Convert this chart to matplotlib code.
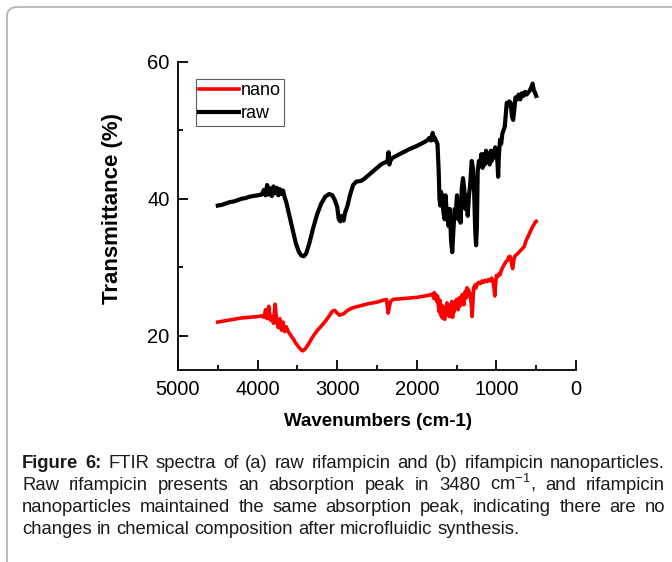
import matplotlib
matplotlib.use("Agg")
import matplotlib.pyplot as plt
from matplotlib.patches import FancyBboxPatch

plt.rcParams['font.family'] = ['Liberation Sans', 'DejaVu Sans']
plt.rcParams['mathtext.fontset'] = 'custom'
plt.rcParams['mathtext.rm'] = 'Liberation Sans'
plt.rcParams['mathtext.it'] = 'Liberation Sans:italic'
plt.rcParams['mathtext.bf'] = 'Liberation Sans:bold'

# ---------------- data ----------------
raw_wn = [4500, 4450, 4400, 4350, 4300, 4250, 4200, 4150, 4100, 4050, 4000, 3950, 3920, 3900, 3880,
          3860, 3840, 3820, 3800, 3780, 3760, 3740, 3720, 3700, 3680, 3660, 3640, 3600, 3560, 3520,
          3480, 3450, 3420, 3390, 3350, 3300, 3250, 3200, 3150, 3100, 3060, 3030, 3000, 2980, 2960,
          2940, 2920, 2900, 2870, 2840, 2800, 2760, 2700, 2650, 2600, 2550, 2500, 2450, 2400, 2370,
          2355, 2345, 2330, 2300, 2200, 2100, 2000, 1950, 1900, 1860, 1840, 1820, 1800, 1790, 1780,
          1760, 1740, 1725, 1715, 1705, 1695, 1680, 1665, 1650, 1640, 1620, 1600, 1585, 1570, 1555,
          1540, 1525, 1510, 1495, 1480, 1465, 1450, 1435, 1420, 1405, 1390, 1375, 1360, 1345, 1330,
          1310, 1295, 1280, 1265, 1255, 1245, 1235, 1220, 1205, 1190, 1175, 1160, 1145, 1130, 1115,
          1100, 1085, 1070, 1060, 1045, 1030, 1015, 1000, 985, 978, 970, 955, 940, 925, 910,
          895, 880, 870, 855, 840, 820, 805, 790, 775, 760, 740, 720, 700, 680, 660,
          640, 620, 600, 580, 560, 545, 530, 515, 500]
raw_t = [39.0, 39.1, 39.3, 39.5, 39.6, 39.8, 40.0, 40.1, 40.3, 40.4, 40.5, 40.6, 41.3, 40.5, 42.0,
         40.6, 41.5, 40.4, 41.8, 40.8, 41.6, 40.5, 41.4, 40.7, 41.2, 40.2, 39.5, 37.5, 35.5, 33.5,
         32.2, 31.7, 31.6, 32.0, 33.5, 35.8, 37.8, 39.3, 40.3, 40.7, 40.5, 39.8, 38.8, 37.0, 36.7,
         37.5, 36.8, 38.0, 39.0, 40.5, 42.0, 42.5, 42.6, 43.0, 43.5, 44.0, 44.5, 45.0, 45.3, 45.4,
         46.8, 45.0, 45.6, 46.0, 46.6, 47.2, 47.7, 48.0, 48.3, 48.6, 48.9, 48.5, 49.6, 48.6, 49.0,
         48.5, 48.0, 44.0, 40.0, 39.0, 41.0, 40.0, 38.0, 37.0, 40.5, 37.5, 36.0, 38.5, 34.0, 32.2,
         35.5, 38.5, 38.0, 40.5, 37.0, 39.0, 36.5, 41.5, 43.0, 41.5, 38.5, 40.5, 37.5, 40.5, 42.0,
         45.5, 44.5, 41.0, 35.0, 33.2, 36.0, 44.0, 45.5, 44.8, 46.5, 44.5, 46.5, 45.0, 47.0, 45.5,
         46.5, 45.0, 47.0, 45.5, 47.0, 46.0, 47.5, 47.0, 45.0, 43.2, 46.0, 48.6, 48.0, 49.5, 50.0,
         50.5, 52.5, 54.0, 53.6, 54.2, 54.0, 52.0, 51.5, 53.0, 54.8, 54.5, 55.2, 54.5, 55.4, 55.0,
         55.6, 55.2, 55.5, 55.8, 56.3, 56.8, 55.8, 55.5, 55.0]

nano_wn = [4500, 4400, 4300, 4200, 4100, 4000, 3950, 3920, 3900, 3880, 3860, 3840, 3820, 3800, 3780,
           3760, 3740, 3720, 3700, 3680, 3660, 3640, 3610, 3580, 3550, 3520, 3480, 3450, 3430, 3400,
           3360, 3320, 3280, 3240, 3200, 3150, 3100, 3060, 3030, 3000, 2970, 2950, 2920, 2880, 2840,
           2800, 2700, 2600, 2500, 2420, 2380, 2360, 2345, 2330, 2300, 2200, 2100, 2000, 1950, 1900,
           1850, 1800, 1790, 1780, 1770, 1760, 1750, 1740, 1730, 1720, 1710, 1700, 1690, 1680, 1670,
           1660, 1650, 1640, 1630, 1620, 1610, 1600, 1590, 1580, 1570, 1560, 1550, 1540, 1530, 1520,
           1510, 1500, 1490, 1480, 1470, 1460, 1450, 1440, 1430, 1420, 1410, 1400, 1390, 1380, 1370,
           1360, 1350, 1340, 1330, 1315, 1305, 1295, 1285, 1270, 1255, 1240, 1220, 1200, 1180, 1160,
           1140, 1120, 1100, 1080, 1060, 1045, 1030, 1020, 1010, 1000, 985, 970, 955, 940, 920,
           900, 880, 860, 845, 830, 815, 805, 795, 785, 770, 750, 730, 710, 690, 670,
           650, 630, 610, 590, 570, 550, 530, 510, 500]
nano_t = [22.0, 22.2, 22.4, 22.6, 22.7, 22.8, 22.9, 22.7, 23.8, 22.5, 24.3, 22.3, 22.8, 21.8, 24.6,
          22.0, 21.2, 22.5, 20.8, 22.0, 20.6, 21.3, 20.5, 20.0, 19.5, 18.9, 18.3, 17.9, 17.8, 18.1,
          18.8, 19.6, 20.3, 20.9, 21.4, 22.1, 22.9, 23.6, 23.7, 23.3, 23.0, 23.1, 23.2, 23.6, 23.9,
          24.1, 24.4, 24.7, 24.9, 25.2, 25.3, 23.3, 24.2, 25.0, 25.3, 25.4, 25.5, 25.6, 25.7, 25.8,
          25.9, 26.1, 25.5, 26.3, 25.4, 26.0, 25.0, 25.8, 24.5, 23.5, 25.2, 23.0, 24.5, 22.6, 24.3,
          23.0, 22.4, 24.0, 23.2, 24.8, 23.0, 24.5, 22.8, 24.2, 23.4, 25.0, 22.7, 24.4, 23.5, 25.0,
          24.0, 25.3, 24.5, 23.8, 25.5, 24.3, 25.6, 24.8, 26.0, 25.2, 24.5, 25.8, 26.5, 25.5, 27.0,
          26.0, 26.7, 25.8, 26.2, 24.5, 22.8, 25.0, 27.0, 27.4, 27.0, 27.6, 27.8, 27.6, 28.0, 27.8,
          28.1, 27.9, 28.2, 28.0, 28.4, 28.0, 27.0, 25.8, 27.5, 28.8, 28.6, 29.0, 28.9, 29.5, 30.0,
          30.4, 30.8, 31.0, 31.5, 31.6, 31.0, 30.2, 29.8, 30.8, 31.6, 31.8, 32.0, 32.3, 32.5, 32.8,
          33.0, 33.8, 34.3, 34.8, 35.3, 35.8, 36.2, 36.6, 36.7]

x_ticks = [5000, 4000, 3000, 2000, 1000, 0]
y_ticks = [20, 40, 60]
series_labels = ["nano", "raw"]
x_label = "Wavenumbers (cm-1)"
y_label = "Transmittance (%)"
caption_lines = [
    "Figure 6: FTIR spectra of (a) raw rifampicin and (b) rifampicin nanoparticles.",
    "Raw rifampicin presents an absorption peak in 3480 cm$^{\\mathregular{-1}}$, and rifampicin",
    "nanoparticles maintained the same absorption peak, indicating there are no",
    "changes in chemical composition after microfluidic synthesis.",
]

# ---------------- figure ----------------
W, H = 672, 562
fig = plt.figure(figsize=(W / 100, H / 100), dpi=100)

frame = FancyBboxPatch((7 / W, -0.1), 1.2, 1 - 7 / H + 0.1,
                       boxstyle="round,pad=0,rounding_size=0.016",
                       transform=fig.transFigure, fill=False,
                       edgecolor="#b5b5b5", linewidth=1.3, zorder=0)
fig.patches.append(frame)

ax = fig.add_axes([178 / W, 1 - 370 / H, (576 - 178) / W, (370 - 61.7) / H])
ax.plot(nano_wn, nano_t, color="#ff0000", lw=2.6, label=series_labels[0])
ax.plot(raw_wn, raw_t, color="#000000", lw=3.0, label=series_labels[1])

ax.set_xlim(5000, 0)
ax.set_ylim(15, 60)
ax.set_xticks(x_ticks)
ax.set_xticks([4500, 3500, 2500, 1500, 500], minor=True)
ax.set_yticks(y_ticks)
ax.set_yticks([30, 50], minor=True)
ax.spines['top'].set_visible(False)
ax.spines['right'].set_visible(False)
for s in ('left', 'bottom'):
    ax.spines[s].set_linewidth(1.3)
ax.tick_params(which='major', direction='in', length=7, width=1.3, labelsize=14.5, pad=6)
ax.tick_params(which='minor', direction='in', length=3.5, width=1.3)
ax.tick_params(axis='x', which='major', pad=7)

ax.set_xlabel(x_label, fontsize=13.5, fontweight='bold')
ax.xaxis.set_label_coords(0.503, -0.14)
ax.set_ylabel(y_label, fontsize=16, fontweight='bold')
ax.yaxis.set_label_coords(-0.138, 0.524)

leg = ax.legend(loc='upper left', bbox_to_anchor=(0.044, 0.9455), borderaxespad=0,
                fontsize=13, frameon=True, fancybox=False,
                handlelength=2.2, handletextpad=0.1, labelspacing=0.35, borderpad=0.2)
leg.get_frame().set_edgecolor('#333333')
leg.get_frame().set_linewidth(0.8)

# ---------------- justified caption ----------------
renderer = fig.canvas.get_renderer()
left_px, right_px = 22, 665
base_size = 12.0


def word_width(word, size, weight='normal'):
    t = fig.text(0, 0, word, fontsize=size, fontweight=weight)
    w = t.get_window_extent(renderer).width
    t.remove()
    return w


def split_words(line):
    words = line.split(' ')
    out = []
    for i, w in enumerate(words):
        weight = 'bold' if (line.startswith('Figure') and i < 2) else 'normal'
        out.append((w, weight))
    return out


last = split_words(caption_lines[-1])
space_w = word_width('a a', base_size) - 2 * word_width('a', base_size)
nat = sum(word_width(w, base_size, wt) for w, wt in last) + space_w * (len(last) - 1)
size = base_size * 499 / nat

line_y = [468, 490, 512, 534]
for li, line in enumerate(caption_lines):
    words = split_words(line)
    widths = [word_width(w, size, wt) for w, wt in words]
    if li < len(caption_lines) - 1:
        gap = (right_px - left_px - sum(widths)) / (len(words) - 1)
    else:
        gap = word_width('a a', size) - 2 * word_width('a', size)
    x = left_px
    for (w, wt), ww in zip(words, widths):
        fig.text(x / W, 1 - line_y[li] / H, w, fontsize=size, fontweight=wt,
                 color='#1a1a1a', va='baseline', ha='left')
        x += ww + gap

fig.savefig("out.png", dpi=100)
